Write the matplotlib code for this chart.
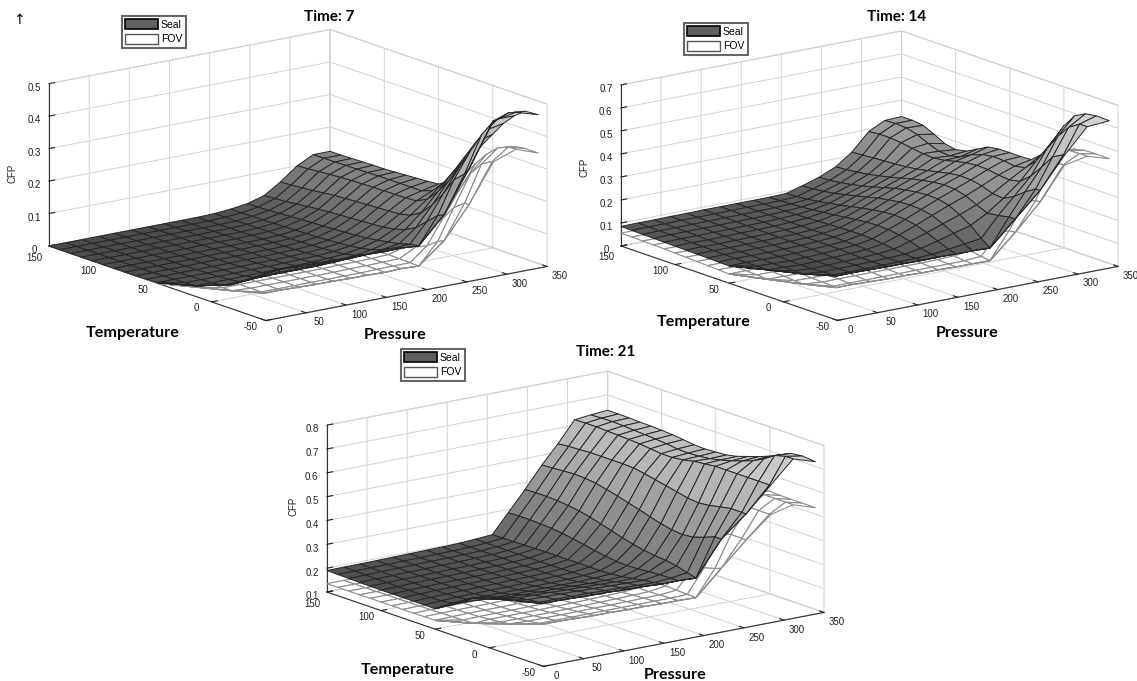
import numpy as np
import matplotlib
matplotlib.use("Agg")
import matplotlib.pyplot as plt
from matplotlib.patches import Patch
from mpl_toolkits.mplot3d import proj3d

# grid nodes of the surfaces
PRESSURE = [0, 21, 41, 62, 82, 103, 124, 144, 165, 185, 206, 226, 247, 268, 288, 309, 329, 350]
TEMPERATURE = [150, 140, 130, 120, 110, 100, 90, 80, 70, 60, 50, 40, 30, 20, 10, 0, -10, -20, -30, -42]
# lowest temperature measured at each pressure (the front edge of the mesh)
TEMP_FRONT = [50, 30, 12, -3, -3, -4, -5, -5, -6, -6, -7, -7, -8, -16, -24, -31, -37, -42]

# CFP values x 1000, one row per pressure
SEAL_7 = [
    [0, 0, 0, 0, 0, 0, 0, 0, 0, 1, 2, 2, 2, 2, 2, 2, 2, 2, 2, 2],
    [0, 0, 0, 0, 0, 0, 0, 0, 0, 1, 2, 3, 5, 5, 5, 5, 5, 5, 5, 5],
    [0, 0, 0, 0, 0, 0, 0, 0, 0, 1, 2, 3, 5, 9, 20, 20, 20, 20, 20, 20],
    [0, 0, 0, 0, 0, 0, 0, 0, 0, 1, 2, 3, 5, 10, 28, 50, 60, 60, 60, 60],
    [0, 0, 0, 0, 0, 0, 0, 0, 1, 1, 2, 3, 6, 12, 30, 52, 65, 65, 65, 65],
    [0, 0, 0, 0, 0, 0, 0, 1, 1, 1, 2, 4, 7, 13, 30, 52, 65, 65, 65, 65],
    [0, 0, 0, 0, 0, 1, 1, 1, 1, 2, 3, 4, 7, 13, 30, 52, 65, 65, 65, 65],
    [0, 0, 0, 0, 1, 1, 1, 1, 2, 2, 3, 5, 8, 14, 30, 52, 65, 65, 65, 65],
    [0, 0, 0, 1, 1, 1, 1, 2, 2, 3, 4, 6, 9, 16, 32, 52, 65, 65, 65, 65],
    [0, 0, 1, 1, 1, 2, 2, 3, 3, 4, 6, 8, 11, 18, 34, 54, 65, 65, 65, 65],
    [2, 2, 2, 3, 3, 4, 4, 5, 6, 7, 9, 11, 15, 22, 36, 56, 65, 65, 65, 65],
    [6, 6, 7, 7, 8, 9, 10, 11, 12, 14, 16, 19, 23, 30, 42, 58, 66, 66, 66, 66],
    [13, 14, 15, 17, 19, 21, 23, 24, 26, 28, 30, 33, 38, 44, 50, 60, 64, 64, 64, 64],
    [28, 30, 32, 36, 40, 43, 46, 48, 50, 52, 54, 57, 62, 72, 90, 120, 150, 160, 160, 160],
    [60, 62, 65, 68, 72, 76, 78, 80, 82, 84, 85, 88, 95, 115, 150, 195, 250, 280, 300, 300],
    [100, 102, 105, 108, 110, 112, 113, 114, 115, 115, 116, 118, 135, 170, 215, 270, 330, 390, 440, 447],
    [125, 125, 125, 126, 126, 127, 128, 128, 128, 128, 128, 140, 175, 225, 280, 335, 385, 430, 460, 470],
    [125, 125, 126, 127, 128, 128, 130, 132, 134, 136, 139, 160, 200, 250, 305, 350, 395, 430, 455, 458],
]
FOV_7 = [
    [0, 0, 0, 0, 0, 0, 0, 0, 0, 0, 0, 0, 0, 0, 0, 0, 0, 0, 0, 0],
    [0, 0, 0, 0, 0, 0, 0, 0, 0, 0, 0, 0, 1, 1, 1, 1, 1, 1, 1, 1],
    [0, 0, 0, 0, 0, 0, 0, 0, 0, 0, 0, 0, 1, 1, 1, 1, 1, 1, 1, 1],
    [0, 0, 0, 0, 0, 0, 0, 0, 0, 0, 0, 0, 1, 1, 1, 1, 1, 1, 1, 1],
    [0, 0, 0, 0, 0, 0, 0, 0, 0, 0, 0, 1, 1, 1, 1, 1, 1, 1, 1, 1],
    [0, 0, 0, 0, 0, 0, 0, 0, 0, 0, 1, 1, 1, 1, 1, 1, 1, 1, 1, 1],
    [0, 0, 0, 0, 0, 0, 0, 0, 0, 1, 1, 1, 1, 1, 1, 1, 1, 1, 1, 1],
    [0, 0, 0, 0, 0, 0, 0, 0, 1, 1, 1, 1, 1, 1, 1, 1, 1, 1, 1, 1],
    [0, 0, 0, 0, 0, 0, 0, 1, 1, 1, 1, 1, 1, 1, 1, 1, 1, 1, 1, 1],
    [0, 0, 0, 0, 0, 0, 0, 1, 1, 1, 1, 2, 2, 2, 2, 1, 1, 1, 1, 1],
    [0, 0, 0, 0, 0, 0, 1, 1, 1, 1, 2, 2, 2, 2, 2, 2, 1, 1, 1, 1],
    [0, 0, 0, 0, 0, 0, 0, 0, 1, 1, 2, 2, 3, 3, 3, 3, 3, 3, 3, 3],
    [3, 3, 3, 3, 3, 4, 4, 4, 4, 5, 5, 5, 5, 5, 4, 3, 2, 2, 2, 2],
    [8, 8, 9, 9, 10, 10, 11, 11, 12, 12, 13, 14, 16, 20, 30, 45, 70, 80, 80, 80],
    [20, 20, 22, 24, 26, 28, 30, 32, 34, 35, 37, 40, 45, 60, 85, 120, 165, 190, 190, 190],
    [50, 50, 52, 54, 56, 58, 60, 62, 64, 66, 68, 72, 85, 110, 150, 200, 260, 300, 320, 320],
    [80, 80, 82, 84, 86, 88, 90, 92, 94, 96, 98, 110, 135, 175, 225, 270, 310, 340, 355, 356],
    [85, 85, 86, 88, 90, 92, 94, 96, 98, 100, 105, 125, 155, 195, 245, 285, 315, 335, 340, 340],
]
SEAL_14 = [
    [85, 84, 83, 82, 81, 80, 79, 78, 77, 76, 75, 75, 75, 75, 75, 75, 75, 75, 75, 75],
    [86, 85, 84, 83, 82, 81, 80, 79, 78, 77, 76, 76, 76, 76, 76, 76, 76, 76, 76, 76],
    [86, 85, 84, 83, 82, 80, 79, 78, 77, 76, 75, 74, 74, 74, 74, 74, 74, 74, 74, 74],
    [87, 86, 85, 84, 83, 81, 80, 79, 78, 76, 74, 72, 70, 70, 72, 75, 75, 75, 75, 75],
    [87, 86, 85, 84, 83, 82, 81, 80, 79, 77, 75, 73, 72, 72, 73, 75, 76, 76, 76, 76],
    [88, 87, 86, 85, 84, 83, 82, 81, 80, 79, 78, 76, 75, 74, 74, 75, 77, 77, 77, 77],
    [88, 87, 86, 85, 85, 84, 84, 83, 82, 82, 81, 80, 78, 76, 75, 76, 78, 78, 78, 78],
    [88, 88, 87, 87, 87, 87, 87, 87, 87, 87, 86, 85, 82, 79, 77, 77, 78, 78, 78, 78],
    [88, 88, 88, 89, 90, 92, 94, 96, 98, 100, 100, 98, 93, 86, 80, 78, 79, 79, 79, 79],
    [88, 89, 91, 94, 98, 103, 108, 114, 120, 125, 127, 125, 118, 106, 92, 82, 80, 80, 80, 80],
    [90, 93, 97, 104, 112, 120, 130, 140, 148, 155, 158, 155, 146, 130, 110, 90, 81, 81, 81, 81],
    [110, 113, 118, 126, 136, 147, 158, 170, 178, 185, 188, 185, 175, 155, 130, 100, 81, 81, 81, 81],
    [133, 136, 142, 150, 160, 172, 185, 198, 207, 214, 218, 216, 205, 180, 150, 110, 81, 81, 81, 81],
    [165, 168, 174, 180, 190, 200, 212, 225, 235, 243, 248, 245, 232, 210, 190, 195, 205, 207, 207, 207],
    [215, 218, 222, 225, 228, 232, 238, 248, 258, 268, 274, 272, 262, 245, 240, 265, 300, 330, 330, 330],
    [290, 295, 295, 290, 282, 275, 272, 278, 290, 300, 305, 303, 295, 290, 300, 340, 395, 455, 480, 480],
    [325, 328, 325, 312, 290, 272, 268, 280, 305, 322, 330, 328, 320, 330, 375, 445, 515, 570, 600, 600],
    [328, 328, 322, 300, 275, 265, 275, 300, 325, 332, 333, 332, 335, 375, 450, 530, 590, 615, 622, 620],
]
FOV_14 = [
    [56, 55, 54, 53, 52, 50, 48, 46, 44, 42, 40, 40, 40, 40, 40, 40, 40, 40, 40, 40],
    [56, 55, 54, 53, 52, 50, 48, 46, 44, 42, 40, 38, 35, 35, 35, 35, 35, 35, 35, 35],
    [56, 55, 54, 53, 52, 50, 48, 46, 44, 42, 40, 38, 35, 32, 30, 30, 30, 30, 30, 30],
    [56, 55, 54, 53, 52, 50, 48, 46, 44, 42, 40, 37, 33, 30, 28, 26, 25, 25, 25, 25],
    [56, 55, 54, 53, 52, 50, 48, 46, 44, 42, 40, 37, 33, 30, 28, 26, 25, 25, 25, 25],
    [56, 55, 54, 53, 52, 50, 48, 46, 44, 42, 40, 37, 33, 30, 28, 26, 25, 25, 25, 25],
    [56, 55, 54, 53, 52, 50, 48, 46, 45, 43, 41, 37, 33, 30, 28, 26, 25, 25, 25, 25],
    [56, 55, 54, 53, 52, 50, 49, 48, 46, 44, 42, 38, 34, 31, 28, 26, 25, 25, 25, 25],
    [56, 55, 54, 53, 52, 51, 50, 49, 48, 46, 43, 39, 35, 31, 28, 26, 25, 25, 25, 25],
    [56, 55, 54, 54, 54, 53, 52, 51, 50, 48, 45, 41, 36, 32, 28, 26, 25, 25, 25, 25],
    [56, 56, 56, 56, 56, 55, 54, 53, 52, 50, 47, 43, 38, 33, 29, 26, 25, 25, 25, 25],
    [60, 60, 60, 60, 60, 60, 60, 59, 58, 56, 53, 49, 44, 38, 32, 27, 25, 25, 25, 25],
    [70, 70, 70, 70, 70, 70, 70, 70, 70, 68, 65, 60, 55, 48, 40, 32, 26, 26, 26, 26],
    [110, 110, 110, 110, 110, 110, 110, 110, 110, 110, 108, 105, 100, 95, 100, 120, 145, 149, 149, 149],
    [160, 160, 160, 160, 160, 160, 160, 160, 160, 160, 160, 160, 160, 160, 175, 210, 255, 280, 280, 280],
    [220, 220, 220, 220, 220, 220, 220, 220, 220, 220, 220, 225, 235, 255, 290, 340, 395, 430, 437, 437],
    [250, 250, 250, 250, 250, 250, 250, 250, 250, 250, 255, 265, 285, 320, 365, 415, 450, 470, 472, 472],
    [255, 255, 255, 255, 255, 255, 255, 255, 255, 255, 260, 270, 295, 330, 375, 420, 445, 455, 456, 455],
]
SEAL_21 = [
    [190, 189, 188, 187, 186, 186, 186, 186, 186, 186, 186, 186, 186, 186, 186, 186, 186, 186, 186, 186],
    [191, 190, 189, 188, 188, 187, 187, 187, 188, 190, 195, 215, 250, 250, 250, 250, 250, 250, 250, 250],
    [191, 190, 190, 189, 189, 189, 189, 189, 190, 192, 197, 212, 232, 248, 255, 255, 255, 255, 255, 255],
    [192, 191, 191, 190, 190, 190, 190, 190, 191, 193, 198, 210, 225, 238, 246, 250, 250, 250, 250, 250],
    [193, 192, 192, 191, 191, 191, 191, 191, 192, 194, 198, 208, 222, 236, 245, 250, 250, 250, 250, 250],
    [194, 193, 193, 192, 192, 192, 192, 192, 193, 195, 199, 208, 220, 234, 244, 249, 250, 250, 250, 250],
    [195, 194, 194, 193, 193, 193, 193, 194, 195, 196, 200, 208, 220, 232, 242, 248, 250, 250, 250, 250],
    [196, 195, 195, 195, 195, 195, 195, 195, 196, 198, 201, 208, 218, 230, 240, 246, 249, 249, 249, 249],
    [198, 197, 197, 197, 197, 197, 197, 198, 198, 200, 202, 208, 216, 228, 238, 244, 248, 248, 248, 248],
    [202, 201, 201, 201, 201, 201, 201, 201, 202, 203, 205, 210, 216, 226, 236, 242, 247, 247, 247, 247],
    [207, 208, 209, 210, 211, 212, 212, 212, 212, 212, 212, 214, 218, 226, 234, 240, 245, 245, 245, 245],
    [286, 288, 288, 286, 283, 278, 270, 262, 252, 244, 238, 236, 238, 242, 245, 246, 246, 246, 246, 246],
    [370, 372, 372, 370, 365, 358, 348, 335, 322, 308, 296, 286, 280, 276, 268, 255, 245, 245, 245, 245],
    [459, 462, 465, 468, 466, 460, 450, 438, 425, 412, 398, 385, 375, 370, 375, 390, 408, 408, 408, 408],
    [535, 540, 542, 545, 545, 545, 545, 543, 535, 525, 515, 505, 495, 490, 495, 505, 513, 513, 513, 513],
    [623, 624, 624, 622, 620, 618, 615, 610, 605, 605, 610, 620, 625, 630, 630, 630, 630, 630, 630, 630],
    [630, 632, 633, 631, 628, 625, 622, 618, 612, 610, 613, 618, 628, 640, 655, 672, 695, 725, 737, 737],
    [636, 636, 635, 633, 632, 630, 627, 622, 616, 614, 617, 620, 630, 645, 660, 678, 700, 720, 725, 720],
]
FOV_21 = [
    [135, 135, 135, 135, 136, 136, 136, 136, 136, 137, 137, 137, 137, 137, 137, 137, 137, 137, 137, 137],
    [135, 135, 135, 135, 136, 136, 136, 137, 137, 138, 139, 140, 142, 142, 142, 142, 142, 142, 142, 142],
    [135, 135, 135, 136, 136, 136, 137, 137, 138, 139, 140, 142, 146, 150, 155, 155, 155, 155, 155, 155],
    [135, 135, 135, 136, 136, 136, 137, 137, 138, 139, 140, 142, 146, 150, 156, 162, 163, 163, 163, 163],
    [135, 135, 135, 136, 136, 137, 137, 138, 138, 139, 140, 142, 146, 150, 156, 162, 163, 163, 163, 163],
    [135, 135, 136, 136, 137, 137, 138, 138, 139, 140, 141, 143, 146, 150, 156, 162, 163, 163, 163, 163],
    [136, 136, 136, 137, 137, 138, 138, 139, 140, 141, 142, 144, 147, 151, 156, 162, 163, 163, 163, 163],
    [136, 136, 137, 137, 138, 138, 139, 140, 141, 142, 143, 145, 148, 152, 157, 162, 163, 163, 163, 163],
    [137, 137, 138, 138, 139, 140, 140, 141, 142, 143, 145, 147, 149, 153, 157, 162, 163, 163, 163, 163],
    [138, 138, 139, 140, 140, 141, 142, 143, 144, 145, 147, 149, 151, 154, 158, 162, 163, 163, 163, 163],
    [140, 141, 141, 142, 143, 144, 145, 146, 147, 148, 150, 151, 153, 156, 159, 162, 163, 163, 163, 163],
    [150, 150, 151, 152, 153, 154, 155, 156, 157, 158, 158, 158, 158, 158, 160, 162, 163, 163, 163, 163],
    [175, 175, 175, 175, 175, 175, 175, 175, 175, 175, 175, 172, 170, 168, 166, 164, 163, 163, 163, 163],
    [230, 230, 230, 230, 230, 230, 230, 230, 230, 230, 230, 230, 235, 240, 250, 262, 275, 286, 286, 286],
    [300, 300, 300, 300, 300, 300, 300, 300, 300, 300, 300, 305, 315, 335, 365, 395, 404, 404, 404, 404],
    [370, 370, 370, 370, 370, 370, 370, 370, 370, 370, 370, 380, 395, 420, 455, 490, 507, 507, 507, 507],
    [420, 420, 420, 420, 420, 420, 420, 420, 420, 420, 430, 445, 470, 500, 530, 545, 545, 545, 545, 545],
    [430, 430, 430, 430, 430, 430, 430, 430, 430, 430, 440, 455, 480, 505, 525, 530, 528, 527, 527, 527],
]

TITLES = ["Time: 7", "Time: 14", "Time: 21"]
P_TICKS = [0, 50, 100, 150, 200, 250, 300, 350]
T_TICKS = [-50, 0, 50, 100, 150]
CFP_TICKS = [
    [0, 0.1, 0.2, 0.3, 0.4, 0.5],
    [0, 0.1, 0.2, 0.3, 0.4, 0.5, 0.6, 0.7],
    [0.1, 0.2, 0.3, 0.4, 0.5, 0.6, 0.7, 0.8],
]
CFP_LABELS = [
    ["0", "0.1", "0.2", "0.3", "0.4", "0.5"],
    ["0", "0.1", "0.2", "0.3", "0.4", "0.5", "0.6", "0.7"],
    ["0.1", "0.2", "0.3", "0.4", "0.5", "0.6", "0.7", "0.8"],
]

W, H = 1137, 681
# pixel layout of each panel: left corner, right corner of the floor, title, labels, legend box
PANELS = [
    dict(box=(351, 362, 168), left=(49, 246), right=(547, 267), title=(329, 17), temp=(133, 333),
         pres=(395, 335), cfp=(13, 173), leg=(122, 16)),
    dict(box=(351, 362, 167), left=(621, 246), right=(1118, 263), title=(897, 17), temp=(704, 322),
         pres=(967, 333), cfp=(585, 167), leg=(684, 23)),
    dict(box=(351, 362, 173), left=(327, 592), right=(824, 608), title=(606, 352), temp=(408, 670),
         pres=(675, 675), cfp=(293, 506), leg=(401, 349)),
]

plt.rcParams["font.family"] = ["Liberation Sans", "DejaVu Sans"]
plt.rcParams["axes.unicode_minus"] = False
fig = plt.figure(figsize=(W / 100, H / 100), dpi=100)


def corner_px(ax, x, y, z):
    # display position of a data point, y counted from the top of the image
    x2, y2, _ = proj3d.proj_transform(x, y, z, ax.get_proj())
    px, py = ax.transData.transform((x2, y2))
    return px, H - py


def fit_axes(ax, box, left, right, zmin, zoom=1.0):
    # scale and shift the box until its floor corners sit on the wanted pixels
    for _ in range(2):
        fig.canvas.draw()
        lx, _ly = corner_px(ax, 0, 150, zmin)
        rx, _ry = corner_px(ax, 350, -50, zmin)
        zoom *= (right[0] - left[0]) / (rx - lx)
        ax.set_box_aspect(box, zoom=zoom)
    fig.canvas.draw()
    lx, ly = corner_px(ax, 0, 150, zmin)
    pos = ax.get_position()
    ax.set_position([pos.x0 + (left[0] - lx) / W, pos.y0 - (left[1] - ly) / H, pos.width, pos.height])


def draw_panel(spec, seal, fov, zticks, zlabels, title):
    size = 700
    ax = fig.add_axes([0.1, 0.1, size / W, size / H], projection="3d",
                      proj_type="ortho", computed_zorder=False)
    ax.set_facecolor("none")
    ax.view_init(elev=14.9, azim=-126.8)
    ax.set_box_aspect(spec["box"])

    p_nodes, t_nodes = np.meshgrid(PRESSURE, TEMPERATURE, indexing="ij")
    front = np.array(TEMP_FRONT)[:, None]
    t_nodes = np.maximum(t_nodes, front)
    z_seal = np.array(seal) / 1000
    z_fov = np.array(fov) / 1000

    surf_fov = ax.plot_surface(p_nodes, t_nodes, z_fov, rstride=1, cstride=1, color="white",
                               shade=False, zorder=1)
    surf_fov.set_edgecolor("#8c8c8c")
    surf_fov.set_linewidth(0.8)

    # grey level follows the height of each cell
    cell = (z_seal[:-1, :-1] + z_seal[1:, :-1] + z_seal[:-1, 1:] + z_seal[1:, 1:]) / 4
    level = (cell - cell.min()) / (cell.max() - cell.min())
    colors = plt.cm.gray(0.3 + 0.52 * level ** 0.65)
    surf = ax.plot_surface(p_nodes, t_nodes, z_seal, rstride=1, cstride=1, facecolors=colors,
                           shade=False, zorder=2)
    surf.set_edgecolor("#262626")
    surf.set_linewidth(0.7)

    ax.set_xlim(0, 350)
    ax.set_ylim(-50, 150)
    ax.set_zlim(zticks[0], zticks[-1])
    ax.set_xticks(P_TICKS)
    ax.set_yticks(T_TICKS)
    ax.set_zticks(zticks, zlabels)
    ax.tick_params(labelsize=7, colors="#222222", pad=0)
    ax.tick_params(axis="x", pad=8)
    ax.tick_params(axis="y", pad=6)
    for lab in ax.get_xticklabels() + ax.get_yticklabels():
        lab.set_va("bottom")
    # the 150 label would run into the lowest CFP label
    ax.get_yticklabels()[-1].set_va("center")

    for axis in (ax.xaxis, ax.yaxis, ax.zaxis):
        axis.set_pane_color((1, 1, 1, 1))
        axis.pane.set_edgecolor("#d0d0d0")
        axis.pane.set_linewidth(0.8)
        axis.line.set_color("#333333")
        axis.line.set_linewidth(0.8)
        axis._axinfo["grid"].update(color="#d2d2d2", linewidth=0.7, linestyle="-")
        axis._axinfo["tick"]["inward_factor"] = 0.0
        axis._axinfo["tick"]["outward_factor"] = 0.25

    fit_axes(ax, spec["box"], spec["left"], spec["right"], zticks[0])

    bold = dict(family=["Lato", "DejaVu Sans"], weight="bold", ha="center", va="center")
    fig.text(spec["title"][0] / W, 1 - spec["title"][1] / H, title, fontsize=11, **bold)
    fig.text(spec["temp"][0] / W, 1 - spec["temp"][1] / H, "Temperature", fontsize=11.6, **bold)
    fig.text(spec["pres"][0] / W, 1 - spec["pres"][1] / H, "Pressure", fontsize=11.6, **bold)
    fig.text(spec["cfp"][0] / W, 1 - spec["cfp"][1] / H, "CFP", fontsize=7, rotation=90,
             ha="center", va="center", color="#222222")

    handles = [Patch(facecolor="#606060", edgecolor="black", linewidth=1.2, label="Seal"),
               Patch(facecolor="white", edgecolor="#555555", label="FOV")]
    leg = fig.legend(handles=handles, loc="upper left",
                     bbox_to_anchor=(spec["leg"][0] / W, 1 - spec["leg"][1] / H),
                     fontsize=7.5, frameon=True, fancybox=False, edgecolor="#666666", framealpha=1,
                     borderpad=0.3, borderaxespad=0, handlelength=3.2, handleheight=1.1,
                     handletextpad=0.25, labelspacing=0.4)
    leg.get_frame().set_linewidth(1.5)


series = [(SEAL_7, FOV_7), (SEAL_14, FOV_14), (SEAL_21, FOV_21)]
for n, spec in enumerate(PANELS):
    draw_panel(spec, series[n][0], series[n][1], CFP_TICKS[n], CFP_LABELS[n], TITLES[n])

# stray arrow in the corner of the figure
fig.text(19 / W, 1 - 20 / H, "\u2191", fontsize=10, ha="center", va="center", family=["DejaVu Sans"])

fig.savefig("out.png", dpi=100)
